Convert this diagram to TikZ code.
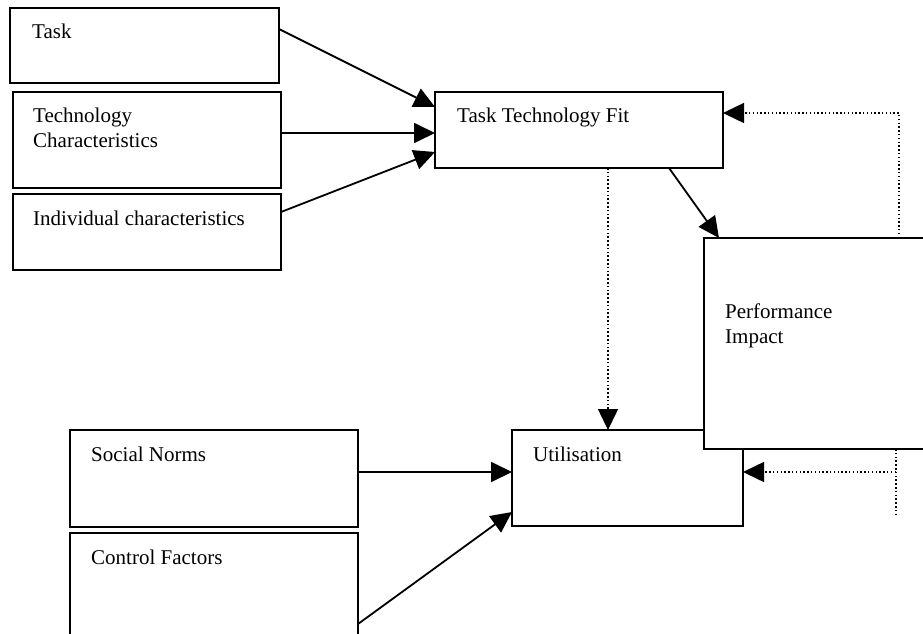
\documentclass[tikz,border=0pt]{standalone}
\usepackage{fontspec}
\setmainfont{Liberation Serif}
\usetikzlibrary{arrows.meta}
\begin{document}
\begin{tikzpicture}[x=1pt,y=-1pt,
  box/.style={draw,line width=1.8pt,fill=white,rectangle,anchor=north west,inner sep=0pt,outer sep=0pt},
  lbl/.style={anchor=base west,inner sep=0pt,font=\fontsize{21}{25}\selectfont,align=left},
  conn/.style={line width=1.8pt,-{Triangle[length=21pt,width=20pt]}},
  dotc/.style={line width=1.5pt,dash pattern=on 1.5pt off 2.3pt},
  dotarr/.style={dotc,-{Triangle[length=21pt,width=20pt]}}]
\useasboundingbox (0,0) rectangle (923,634);
\clip (0,0) rectangle (923,634);
% boxes
\node[box,minimum width=269pt,minimum height=75pt] (task) at (10,8) {};
\node[box,minimum width=268pt,minimum height=96pt] (tech) at (13,92) {};
\node[box,minimum width=268pt,minimum height=76pt] (indiv) at (13,194) {};
\node[box,minimum width=288pt,minimum height=76pt] (ttf) at (435,92) {};
\node[box,minimum width=231pt,minimum height=96pt] (util) at (512,430) {};
\node[box,minimum width=260pt,minimum height=211pt] (perf) at (704,238) {};
\node[box,minimum width=288pt,minimum height=97pt] (social) at (70,430) {};
\node[box,minimum width=288pt,minimum height=130pt] (control) at (70,533) {};
% labels
\node[lbl] (taskl) at (32,39) {Task};
\node[lbl] (techl) at (33,147) {Technology\\Characteristics};
\node[lbl] (indivl) at (33,225) {Individual characteristics};
\node[lbl] (ttfl) at (457,122) {Task Technology Fit};
\node[lbl] (utill) at (533,461) {Utilisation};
\node[lbl] (perfl) at (725,343) {Performance\\Impact};
\node[lbl] (sociall) at (91,461) {Social Norms};
\node[lbl] (controll) at (91,564) {Control Factors};
% solid connectors
\draw[conn] ([yshift=-21pt]task.north east) -- ([yshift=-15pt]ttf.north west);
\draw[conn] ([yshift=-41pt]tech.north east) -- ([yshift=-41pt]ttf.north west);
\draw[conn] ([yshift=-18pt]indiv.north east) -- ([yshift=16pt]ttf.south west);
\draw[conn] ([xshift=-54pt]ttf.south east) -- ([xshift=15pt]perf.north west);
\draw[conn] ([yshift=-42pt]social.north east) -- ([yshift=-42pt]util.north west);
\draw[conn] ([yshift=-91pt]control.north east) -- ([yshift=14pt]util.south west);
% dotted connectors
\draw[dotarr] ([xshift=173pt]ttf.south west) -- ([xshift=96pt]util.north west);
\draw[dotarr] ([xshift=195pt]perf.north west) |- ([yshift=-21pt]ttf.north east);
\coordinate (pend) at (896,517);
\draw[dotc] ([xshift=192pt]perf.south west) -- (pend);
\coordinate (pmid) at (896,472);
\draw[dotarr] (pmid) -- ([yshift=-42pt]util.north east);
\end{tikzpicture}
\end{document}
